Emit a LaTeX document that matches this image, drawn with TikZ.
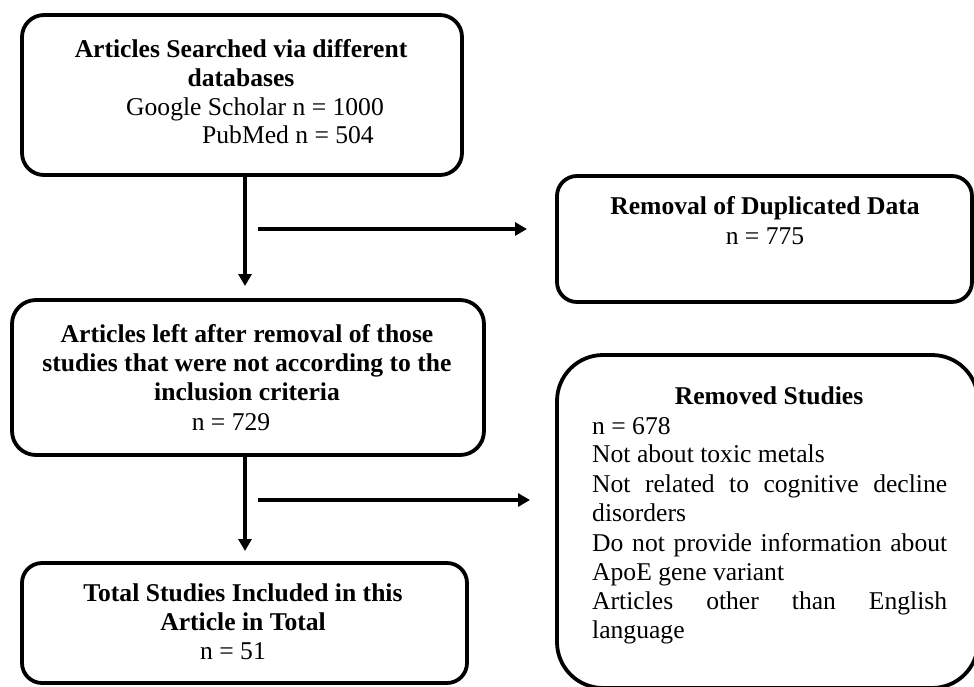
\documentclass[tikz,border=0pt]{standalone}
\usepackage{fontspec}
\setmainfont{Liberation Serif}
\usetikzlibrary{arrows.meta}
\newcommand\diagfs{\fontsize{25.6}{29.5}\selectfont}
\tikzset{
  box/.style={draw=black, line width=3.8pt, fill=none, inner sep=0pt},
  txt/.style={inner sep=0pt, anchor=base, font=\diagfs},
  txtl/.style={inner sep=0pt, anchor=base west, font=\diagfs},
  hd/.style={inner sep=0pt, anchor=base, font=\diagfs\bfseries},
  arr/.style={line width=3.4pt, -{Triangle[length=12pt,width=13pt]}}
}
\begin{document}
\begin{tikzpicture}[x=1pt, y=-1pt]
\useasboundingbox (0,0) rectangle (974,686);
\begin{scope}
\clip (0,0) rectangle (974,686);
% boxes
\node[box, minimum width=440pt, minimum height=160pt, rounded corners=22pt] (b1) at (242,95) {};
\node[box, minimum width=415pt, minimum height=126pt, rounded corners=20pt] (b2) at (764.5,239) {};
\node[box, minimum width=472pt, minimum height=155pt, rounded corners=24pt] (b3) at (248,377.5) {};
\node[box, minimum width=421pt, minimum height=333pt, rounded corners=46pt] (b4) at (767.5,521.5) {};
\node[box, minimum width=445pt, minimum height=120pt, rounded corners=20pt] (b5) at (244.5,623) {};
\end{scope}
% box 1 text
\node[hd] (t1a) at (241,57) {Articles Searched via different};
\node[hd] (t1b) at (241,86) {databases};
\node[txt] (t1c) at (255,115) {Google Scholar n = 1000};
\node[txt] (t1d) at (288,143) {PubMed n = 504};
% box 2 text
\node[hd] (t2a) at (765,214) {Removal of Duplicated Data};
\node[txt] (t2b) at (765,244) {n = 775};
% box 3 text
\node[hd] (t3a) at (247,342) {Articles left after removal of those};
\node[hd] (t3b) at (247,371) {studies that were not according to the};
\node[hd] (t3c) at (247,400) {inclusion criteria};
\node[txt] (t3d) at (231,430) {n = 729};
% box 5 text
\node[hd] (t5a) at (243,601) {Total Studies Included in this};
\node[hd] (t5b) at (243,630) {Article in Total};
\node[txt] (t5c) at (233,659) {n = 51};
% box 4 text
\node[hd] (t4a) at (769,404) {Removed Studies};
\node[txtl] (t4b) at (592,434) {n = 678};
\node[txtl] (t4c) at (592,462) {Not about toxic metals};
\node[txtl] (t4d) at (592,492) {\makebox[355pt][s]{Not related to cognitive decline}};
\node[txtl] (t4e) at (592,521) {disorders};
\node[txtl] (t4f) at (592,551) {\makebox[355pt][s]{Do not provide information about}};
\node[txtl] (t4g) at (592,580) {ApoE gene variant};
\node[txtl] (t4h) at (592,609) {\makebox[355pt][s]{Articles other than English}};
\node[txtl] (t4i) at (592,638) {language};
% connectors
\coordinate (a1e) at (245,286);
\coordinate (a2e) at (245,551);
\coordinate (h1s) at (258,229);
\coordinate (h1e) at (527,229);
\coordinate (h2s) at (258,500);
\coordinate (h2e) at (530,500);
\draw[arr] (b1.south -| a1e) -- (a1e);
\draw[arr] (b3.south -| a2e) -- (a2e);
\draw[arr] (h1s) -- (h1e);
\draw[arr] (h2s) -- (h2e);
\end{tikzpicture}
\end{document}
